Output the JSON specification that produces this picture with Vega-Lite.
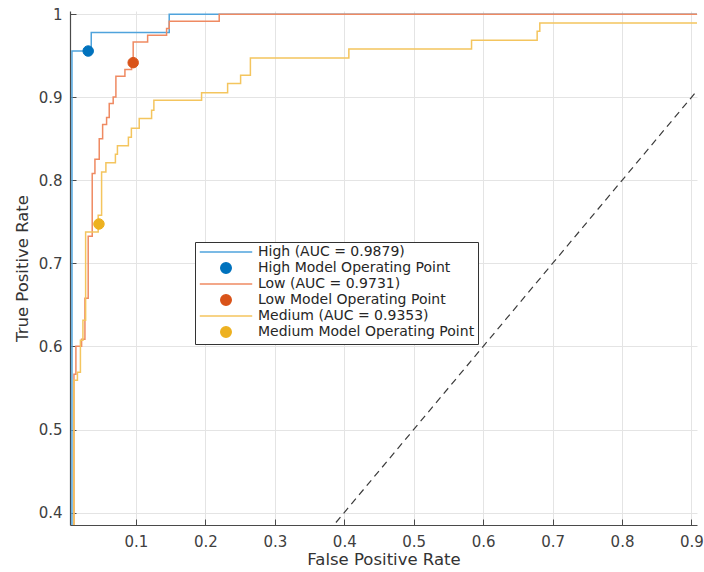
{
  "$schema": "https://vega.github.io/schema/vega-lite/v6.json",
  "autosize": {"type": "none"},
  "padding": {"left": 70, "top": 11, "right": 7, "bottom": 47},
  "width": 627,
  "height": 514,
  "background": "white",
  "datasets": {
    "diag": [{"fpr": 0, "tpr": 0}, {"fpr": 1, "tpr": 1}],
    "roc": [
      {"label": "High (AUC = 0.9879)", "i": 0, "fpr": 0, "tpr": 0},
      {"label": "High (AUC = 0.9879)", "i": 1, "fpr": 0.0078, "tpr": 0.9558},
      {"label": "High (AUC = 0.9879)", "i": 2, "fpr": 0.0356, "tpr": 0.978},
      {"label": "High (AUC = 0.9879)", "i": 3, "fpr": 0.1479, "tpr": 1.0},
      {"label": "High (AUC = 0.9879)", "i": 4, "fpr": 1.0, "tpr": 1.0},
      {"label": "Low (AUC = 0.9731)", "i": 0, "fpr": 0, "tpr": 0},
      {"label": "Low (AUC = 0.9731)", "i": 1, "fpr": 0.0107, "tpr": 0.5665},
      {"label": "Low (AUC = 0.9731)", "i": 2, "fpr": 0.0135, "tpr": 0.6002},
      {"label": "Low (AUC = 0.9731)", "i": 3, "fpr": 0.0217, "tpr": 0.6087},
      {"label": "Low (AUC = 0.9731)", "i": 4, "fpr": 0.0265, "tpr": 0.658},
      {"label": "Low (AUC = 0.9731)", "i": 5, "fpr": 0.0312, "tpr": 0.7327},
      {"label": "Low (AUC = 0.9731)", "i": 6, "fpr": 0.037, "tpr": 0.8082},
      {"label": "Low (AUC = 0.9731)", "i": 7, "fpr": 0.0409, "tpr": 0.8254},
      {"label": "Low (AUC = 0.9731)", "i": 8, "fpr": 0.0471, "tpr": 0.8503},
      {"label": "Low (AUC = 0.9731)", "i": 9, "fpr": 0.052, "tpr": 0.8672},
      {"label": "Low (AUC = 0.9731)", "i": 10, "fpr": 0.0577, "tpr": 0.8756},
      {"label": "Low (AUC = 0.9731)", "i": 11, "fpr": 0.0615, "tpr": 0.8925},
      {"label": "Low (AUC = 0.9731)", "i": 12, "fpr": 0.0672, "tpr": 0.9004},
      {"label": "Low (AUC = 0.9731)", "i": 13, "fpr": 0.0711, "tpr": 0.9253},
      {"label": "Low (AUC = 0.9731)", "i": 14, "fpr": 0.0841, "tpr": 0.9334},
      {"label": "Low (AUC = 0.9731)", "i": 15, "fpr": 0.0937, "tpr": 0.9398},
      {"label": "Low (AUC = 0.9731)", "i": 16, "fpr": 0.096, "tpr": 0.9666},
      {"label": "Low (AUC = 0.9731)", "i": 17, "fpr": 0.1168, "tpr": 0.9747},
      {"label": "Low (AUC = 0.9731)", "i": 18, "fpr": 0.1441, "tpr": 0.9828},
      {"label": "Low (AUC = 0.9731)", "i": 19, "fpr": 0.1479, "tpr": 0.9916},
      {"label": "Low (AUC = 0.9731)", "i": 20, "fpr": 0.2199, "tpr": 1.0},
      {"label": "Low (AUC = 0.9731)", "i": 21, "fpr": 1.0, "tpr": 1.0},
      {"label": "Medium (AUC = 0.9353)", "i": 0, "fpr": 0, "tpr": 0},
      {"label": "Medium (AUC = 0.9353)", "i": 1, "fpr": 0.0107, "tpr": 0.5593},
      {"label": "Medium (AUC = 0.9353)", "i": 2, "fpr": 0.0157, "tpr": 0.5689},
      {"label": "Medium (AUC = 0.9353)", "i": 3, "fpr": 0.02, "tpr": 0.6075},
      {"label": "Medium (AUC = 0.9353)", "i": 4, "fpr": 0.0236, "tpr": 0.6316},
      {"label": "Medium (AUC = 0.9353)", "i": 5, "fpr": 0.0275, "tpr": 0.7379},
      {"label": "Medium (AUC = 0.9353)", "i": 6, "fpr": 0.0456, "tpr": 0.758},
      {"label": "Medium (AUC = 0.9353)", "i": 7, "fpr": 0.0505, "tpr": 0.8101},
      {"label": "Medium (AUC = 0.9353)", "i": 8, "fpr": 0.0567, "tpr": 0.8214},
      {"label": "Medium (AUC = 0.9353)", "i": 9, "fpr": 0.0704, "tpr": 0.8314},
      {"label": "Medium (AUC = 0.9353)", "i": 10, "fpr": 0.0733, "tpr": 0.8417},
      {"label": "Medium (AUC = 0.9353)", "i": 11, "fpr": 0.0891, "tpr": 0.8519},
      {"label": "Medium (AUC = 0.9353)", "i": 12, "fpr": 0.0934, "tpr": 0.8627},
      {"label": "Medium (AUC = 0.9353)", "i": 13, "fpr": 0.1047, "tpr": 0.8744},
      {"label": "Medium (AUC = 0.9353)", "i": 14, "fpr": 0.1225, "tpr": 0.8844},
      {"label": "Medium (AUC = 0.9353)", "i": 15, "fpr": 0.1258, "tpr": 0.8964},
      {"label": "Medium (AUC = 0.9353)", "i": 16, "fpr": 0.1945, "tpr": 0.9057},
      {"label": "Medium (AUC = 0.9353)", "i": 17, "fpr": 0.232, "tpr": 0.9166},
      {"label": "Medium (AUC = 0.9353)", "i": 18, "fpr": 0.2507, "tpr": 0.9265},
      {"label": "Medium (AUC = 0.9353)", "i": 19, "fpr": 0.2648, "tpr": 0.9474},
      {"label": "Medium (AUC = 0.9353)", "i": 20, "fpr": 0.4066, "tpr": 0.9582},
      {"label": "Medium (AUC = 0.9353)", "i": 21, "fpr": 0.5833, "tpr": 0.9687},
      {"label": "Medium (AUC = 0.9353)", "i": 22, "fpr": 0.6778, "tpr": 0.9795},
      {"label": "Medium (AUC = 0.9353)", "i": 23, "fpr": 0.6816, "tpr": 0.9895},
      {"label": "Medium (AUC = 0.9353)", "i": 24, "fpr": 1.0, "tpr": 1.0}
    ],
    "ops": [
      {"label": "High Model Operating Point", "fpr": 0.0312, "tpr": 0.9558},
      {"label": "Low Model Operating Point", "fpr": 0.096, "tpr": 0.9418},
      {"label": "Medium Model Operating Point", "fpr": 0.0467, "tpr": 0.7475}
    ]
  },
  "layer": [
    {
      "data": {"name": "diag"},
      "mark": {"type": "line", "clip": true, "color": "#3a3a3a", "strokeWidth": 1.2, "strokeDash": [7, 5]},
      "encoding": {
        "x": {"field": "fpr", "type": "quantitative"},
        "y": {"field": "tpr", "type": "quantitative"}
      }
    },
    {
      "data": {"name": "roc"},
      "mark": {"type": "line", "clip": true, "interpolate": "step-after", "strokeWidth": 1.5},
      "encoding": {
        "x": {
          "field": "fpr", "type": "quantitative", "title": "False Positive Rate",
          "scale": {"domain": [0.005, 0.908], "nice": false, "zero": false},
          "axis": {"values": [0.1, 0.2, 0.3, 0.4, 0.5, 0.6, 0.7, 0.8, 0.9], "format": ".1~f", "labelPadding": 15, "titlePadding": 2}
        },
        "y": {
          "field": "tpr", "type": "quantitative", "title": "True Positive Rate",
          "scale": {"domain": [0.385, 1.004], "nice": false, "zero": false},
          "axis": {"values": [0.4, 0.5, 0.6, 0.7, 0.8, 0.9, 1.0], "format": ".1~f", "labelPadding": 14, "titlePadding": 8}
        },
        "order": {"field": "i", "type": "quantitative"},
        "stroke": {
          "field": "label", "type": "nominal",
          "scale": {
            "domain": ["High (AUC = 0.9879)", "High Model Operating Point", "Low (AUC = 0.9731)", "Low Model Operating Point", "Medium (AUC = 0.9353)", "Medium Model Operating Point"],
            "range": ["#4FA3DC", "#0072BD", "#EF8A62", "#D95319", "#F4C55E", "#EDB120"]
          },
          "legend": {"title": null, "orient": "none", "legendX": 125, "legendY": 231}
        }
      }
    },
    {
      "data": {"name": "ops"},
      "mark": {"type": "point", "filled": true, "opacity": 1, "size": 110, "strokeWidth": 1},
      "encoding": {
        "x": {"field": "fpr", "type": "quantitative"},
        "y": {"field": "tpr", "type": "quantitative"},
        "stroke": {"field": "label", "type": "nominal"},
        "fill": {
          "field": "label", "type": "nominal",
          "scale": {
            "domain": ["High (AUC = 0.9879)", "High Model Operating Point", "Low (AUC = 0.9731)", "Low Model Operating Point", "Medium (AUC = 0.9353)", "Medium Model Operating Point"],
            "range": ["#4FA3DC", "#0072BD", "#EF8A62", "#D95319", "#F4C55E", "#EDB120"]
          },
          "legend": {"title": null, "orient": "none", "legendX": 125, "legendY": 231}
        },
        "shape": {
          "field": "label", "type": "nominal",
          "scale": {
            "domain": ["High (AUC = 0.9879)", "High Model Operating Point", "Low (AUC = 0.9731)", "Low Model Operating Point", "Medium (AUC = 0.9353)", "Medium Model Operating Point"],
            "range": ["M-5,0H5", "circle", "M-5,0H5", "circle", "M-5,0H5", "circle"]
          },
          "legend": {"title": null, "orient": "none", "legendX": 125, "legendY": 231}
        }
      }
    }
  ],
  "config": {
    "view": {"stroke": null},
    "font": "DejaVu Sans",
    "axis": {
      "labelFont": "DejaVu Sans", "labelFontSize": 15, "labelColor": "#404040",
      "titleFont": "DejaVu Sans", "titleFontSize": 16.5, "titleFontWeight": "normal", "titleColor": "#333333",
      "gridColor": "#e4e4e4", "gridWidth": 1,
      "domainColor": "#4a4a4a", "domainWidth": 1.2,
      "tickColor": "#4a4a4a", "tickSize": -6, "tickWidth": 1
    },
    "legend": {
      "labelFont": "DejaVu Sans", "labelFontSize": 14, "labelColor": "#262626", "labelLimit": 400,
      "symbolSize": 110, "symbolStrokeWidth": 1.5,
      "symbolOffset": 21, "labelOffset": 25,
      "padding": 3, "rowPadding": 0,
      "strokeColor": "#333333", "fillColor": "white", "cornerRadius": 0
    }
  }
}
